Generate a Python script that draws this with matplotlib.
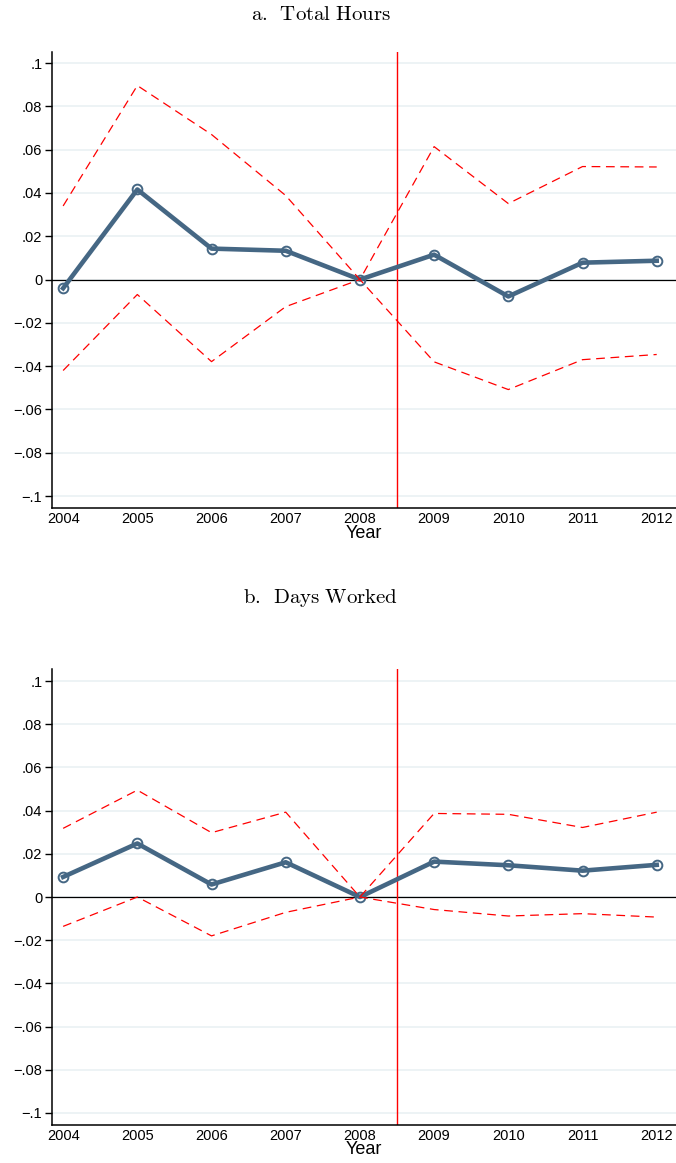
import matplotlib
matplotlib.use("Agg")
import matplotlib.pyplot as plt
import numpy as np

plt.rcParams['font.family'] = ['Liberation Sans', 'DejaVu Sans']
plt.rcParams['mathtext.fontset'] = 'cm'

years = [2004, 2005, 2006, 2007, 2008, 2009, 2010, 2011, 2012]

# Panel a: total hours
hours_coef = [-0.0040, 0.0416, 0.0143, 0.0133, 0.0, 0.0115, -0.0078, 0.0078, 0.0087]
hours_hi = [0.034, 0.0896, 0.067, 0.0388, 0.0, 0.0614, 0.0351, 0.0522, 0.052]
hours_lo = [-0.042, -0.0069, -0.0379, -0.0125, 0.0, -0.038, -0.0508, -0.037, -0.0346]

# Panel b: days worked
days_coef = [0.0093, 0.0248, 0.0058, 0.0161, 0.0, 0.0164, 0.0147, 0.0122, 0.0149]
days_hi = [0.0318, 0.0495, 0.0298, 0.0393, 0.0, 0.0387, 0.0383, 0.0322, 0.0393]
days_lo = [-0.0136, 0.0, -0.018, -0.0071, 0.0, -0.0058, -0.0088, -0.0077, -0.0093]

yticks = [0.1, 0.08, 0.06, 0.04, 0.02, 0.0, -0.02, -0.04, -0.06, -0.08, -0.1]
ytick_labels = [".1", ".08", ".06", ".04", ".02", "0", "\u2212.02", "\u2212.04",
                "\u2212.06", "\u2212.08", "\u2212.1"]
panel_titles = [r"$\mathrm{a.\ \,Total\ Hours}$", r"$\mathrm{b.\ \,Days\ Worked}$"]

W, H = 676, 1163
fig = plt.figure(figsize=(W / 100, H / 100), dpi=100)

line_col = "#456784"
grid_col = "#eaf1f3"


def draw_panel(ax, coef, hi, lo, ylim):
    ax.set_xlim(2003.85, 2012.26)
    ax.set_ylim(*ylim)
    for t in yticks:
        ax.axhline(t, color=grid_col, lw=1.2, zorder=0)
    ax.axhline(0, color="black", lw=0.9, zorder=1)
    ax.axvline(2008.5, color="red", lw=1.0, zorder=2)
    ax.plot(years, coef, color=line_col, lw=3.3, zorder=3,
            marker="o", ms=7, mfc="none", mec=line_col, mew=1.4)
    ax.plot(years, hi, color="red", lw=0.9, dashes=(7, 4.5), zorder=4)
    ax.plot(years, lo, color="red", lw=0.9, dashes=(7, 4.5), zorder=4)
    ax.set_yticks(yticks)
    ax.set_yticklabels(ytick_labels, fontsize=10.5)
    ax.set_xticks(years)
    ax.set_xticklabels([str(y) for y in years], fontsize=10.5)
    ax.tick_params(axis="y", direction="out", length=5, width=1, pad=2)
    ax.tick_params(axis="x", length=0, pad=3)
    for s in ("top", "right"):
        ax.spines[s].set_visible(False)
    for s in ("left", "bottom"):
        ax.spines[s].set_linewidth(1.1)
    ax.set_xlabel("Year", fontsize=13, labelpad=-1)


ax1 = fig.add_axes([52 / W, 1 - 508 / H, 624 / W, 456 / H])
draw_panel(ax1, hours_coef, hours_hi, hours_lo, (-0.1055, 0.1051))
ax2 = fig.add_axes([52 / W, 1 - 1124.6 / H, 624 / W, 455.6 / H])
draw_panel(ax2, days_coef, days_hi, days_lo, (-0.1054, 0.1056))

fig.text(321 / W, 1 - 15 / H, panel_titles[0], ha="center", va="center", fontsize=15)
fig.text(321 / W, 1 - 598 / H, panel_titles[1], ha="center", va="center", fontsize=15)

fig.savefig("out.png", dpi=100, facecolor="white")
